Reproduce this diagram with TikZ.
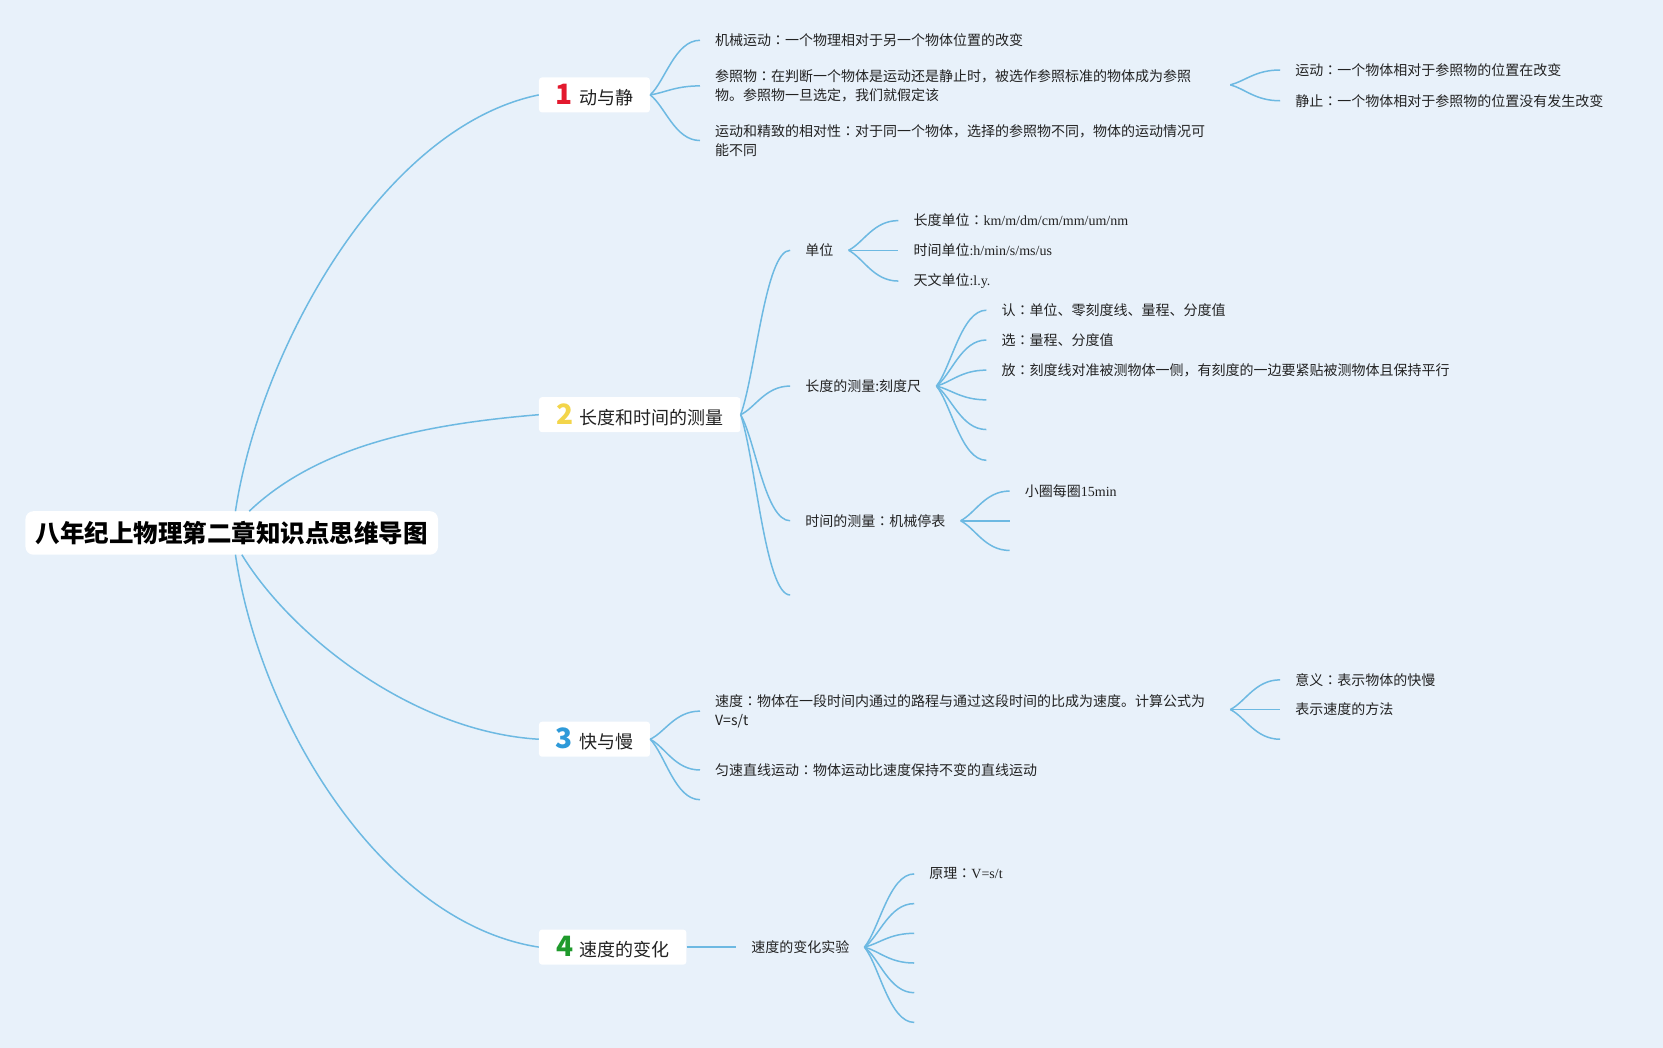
\documentclass[tikz,border=0pt]{standalone}
\usepackage{fontspec}
\setmainfont{Noto Sans CJK SC}
\newfontfamily\lat{Liberation Serif}
\newfontfamily\jpf{Noto Sans CJK JP}
\newcommand\colz{{\jpf ：}}
\usetikzlibrary{calc}
\definecolor{bgc}{HTML}{E8F1FA}
\definecolor{ln}{HTML}{6DB9E2}
\definecolor{tx}{HTML}{222222}
\definecolor{nA}{HTML}{E3192E}
\definecolor{nB}{HTML}{F3D54A}
\definecolor{nC}{HTML}{2E9AD9}
\definecolor{nD}{HTML}{1F9A2C}
\newcommand\tnum[2]{{\fontsize{28}{28}\selectfont\bfseries\color{#1}#2}\hspace{6pt}}
\begin{document}
\begin{tikzpicture}[x=1.0606pt,y=-1.0606pt,
 conn/.style={draw=ln,line width=1.5pt},
 fan/.style={conn,to path={let \p1=(\tikztostart),\p2=(\tikztotarget) in
   .. controls ({\x1+0.3*(\x2-\x1)},{\y1+0.25*(\y2-\y1)}) and ({\x1+0.5*(\x2-\x1)},{\y2}) .. (\tikztotarget) \tikztonodes}},
 leaf/.style={anchor=west,inner xsep=15pt,inner ysep=2pt,text=tx,font=\fontsize{14}{19}\selectfont,align=left},
 topic/.style={anchor=west,fill=white,rounded corners=3pt,minimum height=35pt,inner xsep=0pt,inner ysep=0pt,text=tx,font=\fontsize{18}{22}\selectfont},
 rootbox/.style={fill=white,rounded corners=8pt,inner xsep=0pt,minimum width=412.6pt,minimum height=43.5pt,text=black,font=\fontsize{24.5}{28}\selectfont\bfseries}
]
\useasboundingbox (0,0) rectangle (1568,988);
\fill[bgc] (0,0) rectangle (1568,988);

% root
\node[rootbox] (root) at (218.5,502.5) {八年纪上物理第二章知识点思维导图};
\coordinate (r1) at (222,482);
\coordinate (r2) at (235,482);
\coordinate (r3) at (228,523);
\coordinate (r4) at (222,523);

% topic 1
\node[topic,minimum width=111pt] (t1) at (508,89.5) {\tnum{nA}{1}动与静};
\node[leaf] (a1) at (660,38) {机械运动\colz 一个物理相对于另一个物体位置的改变};
\node[leaf] (a2) at (660,81) {参照物\colz 在判断一个物体是运动还是静止时，被选作参照标准的物体成为参照\\物。参照物一旦选定，我们就假定该};
\node[leaf] (a3) at (660,132.5) {运动和精致的相对性\colz 对于同一个物体，选择的参照物不同，物体的运动情况可\\能不同};
\coordinate (a2o) at (1160,80);
\node[leaf] (a21) at (1207,66) {运动\colz 一个物体相对于参照物的位置在改变};
\node[leaf] (a22) at (1207,95) {静止\colz 一个物体相对于参照物的位置没有发生改变};

% topic 2
\node[topic,minimum width=201.5pt] (t2) at (508,391) {\tnum{nB}{2}长度和时间的测量};
\node[leaf] (b1) at (745,236) {单位};
\node[leaf] (b2) at (745,364) {长度的测量:刻度尺};
\node[leaf] (b3) at (745,491) {时间的测量\colz 机械停表};
\coordinate (b4) at (745,561);
\node[leaf] (b11) at (847,208) {长度单位\colz{\lat km/m/dm/cm/mm/um/nm}};
\node[leaf] (b12) at (847,236) {时间单位{\lat :h/min/s/ms/us}};
\node[leaf] (b13) at (847,265) {天文单位{\lat :l.y.}};
\node[leaf] (b21) at (930,292.5) {认\colz 单位、零刻度线、量程、分度值};
\node[leaf] (b22) at (930,320.6) {选\colz 量程、分度值};
\node[leaf] (b23) at (930,349) {放\colz 刻度线对准被测物体一侧，有刻度的一边要紧贴被测物体且保持平行};
\coordinate (b24) at (930,377);
\coordinate (b25) at (930,405);
\coordinate (b26) at (930,434);
\node[leaf] (b31) at (952,463) {小圈每圈{\lat 15min}};
\coordinate (b32) at (952,491);
\coordinate (b33) at (952,519);

% topic 3
\node[topic,minimum width=111pt] (t3) at (508,697) {\tnum{nC}{3}快与慢};
\node[leaf] (c1) at (660,670.5) {速度\colz 物体在一段时间内通过的路程与通过这段时间的比成为速度。计算公式为\\V=s/t};
\node[leaf] (c2) at (660,726) {匀速直线运动\colz 物体运动比速度保持不变的直线运动};
\coordinate (c3) at (660,754);
\coordinate (c1o) at (1160,669);
\node[leaf] (c11) at (1207,641) {意义\colz 表示物体的快慢};
\node[leaf] (c12) at (1207,669) {表示速度的方法};
\coordinate (c13) at (1207,697);

% topic 4
\node[topic,minimum width=147.4pt] (t4) at (508,893) {\tnum{nD}{4}速度的变化};
\node[leaf] (d1) at (694,893) {速度的变化实验};
\node[leaf] (d11) at (862,824) {原理\colz{\lat V=s/t}};
\coordinate (d12) at (862,852);
\coordinate (d13) at (862,880);
\coordinate (d14) at (862,908);
\coordinate (d15) at (862,936);
\coordinate (d16) at (862,964);

% root connectors
\draw[conn] (r1) .. controls (245,330) and (360,120) .. (t1.west);
\draw[conn] (r2) .. controls (300,420) and (400,400) .. (t2.west);
\draw[conn] (r3) .. controls (275,600) and (390,690) .. (t3.west);
\draw[conn] (r4) .. controls (245,680) and (360,870) .. (t4.west);

% topic 1 fans
\foreach \k in {a1,a2,a3} \draw[fan] (t1.east) to (\k.west);
\foreach \k in {a21,a22} \draw[fan] (a2o) to (\k.west);

% topic 2 fans
\foreach \k in {b1,b2,b3} \draw[fan] (t2.east) to (\k.west);
\draw[fan] (t2.east) to (b4);
\foreach \k in {b11,b12,b13} \draw[fan] (b1.east) to (\k.west);
\foreach \k in {b21,b22,b23} \draw[fan] (b2.east) to (\k.west);
\foreach \k in {b24,b25,b26} \draw[fan] (b2.east) to (\k);
\draw[fan] (b3.east) to (b31.west);
\foreach \k in {b32,b33} \draw[fan] (b3.east) to (\k);

% topic 3 fans
\foreach \k in {c1,c2} \draw[fan] (t3.east) to (\k.west);
\draw[fan] (t3.east) to (c3);
\foreach \k in {c11,c12} \draw[fan] (c1o) to (\k.west);
\draw[fan] (c1o) to (c13);

% topic 4
\draw[conn] (t4.east) -- (d1.west);
\draw[fan] (d1.east) to (d11.west);
\foreach \k in {d12,d13,d14,d15,d16} \draw[fan] (d1.east) to (\k);
\end{tikzpicture}
\end{document}
